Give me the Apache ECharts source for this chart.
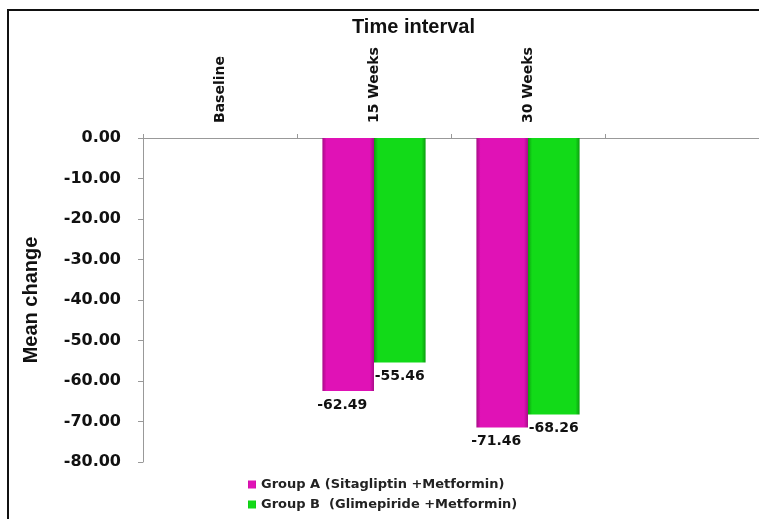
<!DOCTYPE html>
<html>
<head>
<meta charset="utf-8">
<script src="https://cdn.jsdelivr.net/npm/echarts@6/dist/echarts.min.js"></script>
<style>
  html, body { margin:0; padding:0; background:#fff; }
  #wrap { position:relative; width:759px; height:519px; overflow:hidden; background:#fff; }
  #frame { position:absolute; left:7px; top:9px; width:800px; height:600px; border-top:2px solid #111; border-left:2px solid #111; }
  #chart { position:absolute; left:0; top:0; width:759px; height:519px; }
</style>
</head>
<body>
<div id="wrap">
  <div id="frame"></div>
  <div id="chart"></div>
</div>
<script>
const categories = ["Baseline", "15 Weeks", "30 Weeks", ""];
const groupA = [null, -62.49, -71.46, null];
const groupB = [null, -55.46, -68.26, null];
const seriesNames = ["Group A (Sitagliptin +Metformin)", "Group B  (Glimepiride +Metformin)"];
const yTicks = { min: -80, max: 0, interval: 10 };

const chart = echarts.init(document.getElementById('chart'), null, { renderer: 'canvas' });

function grad(edge, mid) {
  return new echarts.graphic.LinearGradient(0, 0, 1, 0, [
    { offset: 0, color: edge },
    { offset: 0.08, color: mid },
    { offset: 0.92, color: mid },
    { offset: 1, color: edge }
  ]);
}

const labelStyle = {
  show: true,
  position: 'bottom',
  distance: 7,
  fontFamily: 'DejaVu Sans',
  fontWeight: 'bold',
  fontSize: 14,
  color: '#111',
  formatter: p => p.value == null ? '' : p.value.toFixed(2)
};

chart.setOption({
  animation: false,
  backgroundColor: 'transparent',
  title: {
    text: 'Time interval',
    left: 352, top: 17, padding: 0,
    textStyle: { fontFamily: 'Liberation Sans', fontWeight: 'bold', fontSize: 20, color: '#111' }
  },
  legend: {
    orient: 'vertical',
    left: 243, top: 473,
    itemWidth: 8, itemHeight: 8, itemGap: 7,
    icon: 'rect',
    textStyle: { fontFamily: 'DejaVu Sans', fontWeight: 'bold', fontSize: 13, color: '#222' },
    data: seriesNames
  },
  grid: { left: 143, right: -4, top: 138, bottom: 57, containLabel: false },
  xAxis: {
    type: 'category',
    position: 'top',
    data: categories,
    axisLine: { onZero: false, lineStyle: { color: '#999', width: 1 } },
    axisTick: { show: true, length: 4, inside: false, lineStyle: { color: '#999' } },
    axisLabel: {
      rotate: -90, margin: 15,
      fontFamily: 'DejaVu Sans', fontWeight: 'bold', fontSize: 14, color: '#111'
    },
    splitLine: { show: false }
  },
  yAxis: {
    type: 'value',
    min: yTicks.min, max: yTicks.max, interval: yTicks.interval,
    name: 'Mean change',
    nameLocation: 'middle',
    nameGap: 102,
    nameTextStyle: { fontFamily: 'Liberation Sans', fontWeight: 'bold', fontSize: 20, color: '#111' },
    axisLine: { show: true, lineStyle: { color: '#999', width: 1 } },
    axisTick: { show: true, length: 5, lineStyle: { color: '#999' } },
    axisLabel: {
      margin: 22,
      fontFamily: 'DejaVu Sans', fontWeight: 'bold', fontSize: 16, color: '#111',
      formatter: v => v.toFixed(2)
    },
    splitLine: { show: false }
  },
  series: [
    {
      name: seriesNames[0], type: 'bar', data: groupA,
      barGap: '0%', barCategoryGap: '33%',
      itemStyle: { color: grad('#A80C88', '#E012B6') },
      label: Object.assign({}, labelStyle, { offset: [-6, 0] })
    },
    {
      name: seriesNames[1], type: 'bar', data: groupB,
      barGap: '0%', barCategoryGap: '33%',
      itemStyle: { color: grad('#0C9E10', '#12DA18') },
      label: labelStyle
    }
  ]
});
</script>
</body>
</html>
